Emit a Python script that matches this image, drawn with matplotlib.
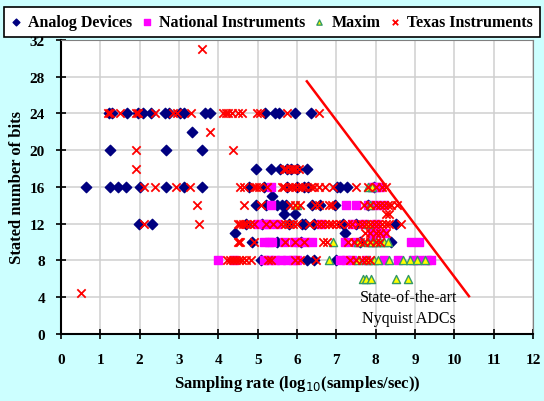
import matplotlib
matplotlib.use("Agg")
import matplotlib.pyplot as plt

# bits -> log10(sample rate) readings, one dict per vendor
analog = {
    24: [1.22, 1.29, 1.67, 1.97, 2.09, 2.30, 2.65, 2.75, 3.03, 3.13, 3.65, 3.78,
         5.18, 5.45, 5.54, 5.96, 6.35],
    22: [3.34],
    20: [1.24, 2.66, 3.59],
    18: [4.97, 5.35, 5.56, 5.75, 5.85, 6.0, 6.25],
    16: [0.64, 1.24, 1.46, 1.66, 2.01, 2.68, 3.13, 3.59, 4.78, 5.16, 5.75, 6.0,
         6.17, 6.29, 7.01, 7.09, 7.26, 7.95],
    15: [5.37],
    14: [4.97, 5.20, 5.50, 5.62, 5.71, 6.38, 6.59, 6.97, 7.8],
    13: [5.66, 5.96],
    12: [1.99, 2.32, 4.7, 5.1, 5.8, 6.13, 6.21, 6.42, 7.18, 7.5, 8.52],
    11: [4.43, 7.22],
    10: [4.85, 5.50, 6.1, 7.6, 8.39],
    8: [5.09, 6.25, 6.42, 7.0],
}

national = {
    16: [5.34, 7.9, 8.0, 8.1],
    14: [5.33, 7.24, 7.51, 7.8, 8.0, 8.2],
    12: [5.0, 5.15, 5.3, 5.5, 6.6, 7.4, 7.7, 8.0],
    11: [7.9, 8.05, 8.2],
    10: [5.16, 5.28, 5.37, 5.66, 5.92, 6.05, 6.2, 6.38, 7.22, 7.5, 7.9, 8.9, 9.1],
    8: [3.98, 4.4, 5.16, 5.3, 5.45, 5.6, 5.75, 5.9, 6.0, 7.1, 7.25, 7.4, 7.75,
        8.2, 8.56, 8.95, 9.1, 9.3, 9.4],
}

maxim = {
    16: [7.8, 7.9],
    14: [6.0, 7.85],
    12: [7.8],
    10: [6.92, 7.55, 7.8, 7.9, 8.0, 8.1, 8.2, 8.3],
    8: [6.81, 7.55, 7.8, 7.95, 8.05, 8.33, 8.69, 8.88, 9.04, 9.26],
    6: [7.68, 7.76, 7.89, 8.52, 8.81],
}

texas = {
    31: [3.58],
    24: [1.19, 1.25, 1.49, 1.90, 1.97, 2.39, 2.85, 2.95, 3.30, 4.13, 4.19, 4.25,
         4.36, 4.49, 4.59, 4.99, 5.07, 5.75, 6.55],
    22: [3.78],
    20: [1.91, 4.38],
    18: [1.91, 5.66, 5.72, 5.82, 5.9, 5.95, 6.05],
    16: [2.12, 2.39, 2.93, 3.29, 4.55, 4.66, 4.91, 4.95, 5.03, 5.24, 5.62, 5.68,
         5.8, 5.88, 5.95, 6.05, 6.12, 6.2, 6.35, 6.42, 6.55, 6.71, 6.92, 7.51,
         7.8, 8.0, 8.15, 8.27],
    14: [3.46, 4.66, 5.08, 5.83, 5.96, 6.08, 6.46, 6.55, 6.80, 6.88, 7.7, 7.85,
         8.0, 8.1, 8.2, 8.3, 8.39, 8.54],
    13: [8.27, 8.35],
    12: [2.12, 3.50, 4.49, 4.55, 4.62, 4.7, 4.8, 4.91, 5.2, 5.4, 5.6, 5.7, 5.8,
         5.9, 6.0, 6.3, 6.5, 6.6, 6.7, 6.8, 6.9, 7.0, 7.1, 7.3, 7.4, 7.55, 7.65,
         7.75, 7.85, 7.95, 8.05, 8.15, 8.25, 8.35, 8.65],
    11: [7.72, 7.85, 8.0, 8.1, 8.25],
    10: [4.49, 4.53, 4.55, 4.91, 5.7, 5.95, 6.17, 6.67, 6.76, 7.30, 7.45, 7.6,
         7.7, 7.85, 8.0, 8.1],
    8: [4.23, 4.3, 4.38, 4.45, 4.52, 4.6, 4.7, 4.82, 5.25, 5.35, 5.96, 6.08,
        6.47, 7.35, 7.5, 7.65, 7.75, 7.85],
    4.5: [0.51],
}

# state-of-the-art boundary line
edge_x = [6.25, 10.37]
edge_y = [27.5, 4.1]


def flatten(d):
    xs, ys = [], []
    for bits, rates in d.items():
        xs += rates
        ys += [bits] * len(rates)
    return xs, ys


plt.rcParams['font.family'] = ['Liberation Serif', 'DejaVu Serif']

fig = plt.figure(figsize=(5.44, 4.02), dpi=100, facecolor='#CCFFFF')
ax = fig.add_axes([0.112, 0.167, 0.868, 0.731])
ax.set_facecolor('white')

x, y = flatten(analog)
ax.scatter(x, y, marker='D', s=28, color='#000080', label='Analog Devices', zorder=3)
x, y = flatten(national)
ax.scatter(x, y, marker='s', s=38, color='#FF00FF', label='National Instruments', zorder=3)
x, y = flatten(maxim)
ax.scatter(x, y, marker='^', s=34, facecolor='#FFFF00', edgecolor='#339966',
           linewidth=1, label='Maxim', zorder=3)
x, y = flatten(texas)
ax.scatter(x, y, marker='x', s=36, color='#FF0000', linewidth=1.3,
           label='Texas Instruments', zorder=3)

ax.plot(edge_x, edge_y, color='#FF0000', lw=1.8, zorder=4)
ax.text(8.83, 2.85, 'State-of-the-art\nNyquist ADCs', ha='center', va='center',
        fontsize=11.5, linespacing=1.45)

ax.set_xlim(0, 12)
ax.set_ylim(0, 32)
ax.set_xticks(range(0, 13))
ax.set_yticks(range(0, 33, 4))
ax.grid(color='#CFCFCF', lw=1.1)
ax.set_axisbelow(True)
ax.tick_params(direction='inout', length=7, width=1.2, labelsize=11, pad=8)
ax.tick_params(axis='x', pad=10)
for lab in ax.get_xticklabels() + ax.get_yticklabels():
    lab.set_fontweight('bold')
for s in ['top', 'right']:
    ax.spines[s].set_color('#808080')
for s in ['left', 'bottom']:
    ax.spines[s].set_linewidth(1.5)

ax.set_xlabel('Sampling rate (log$_{10}$(samples/sec))', fontsize=12,
              fontweight='bold', labelpad=5)
ax.set_ylabel('Stated number of bits', fontsize=12, fontweight='bold', labelpad=3)

leg = fig.legend(loc='upper center', bbox_to_anchor=(0.5, 0.993), ncol=4,
                 prop={'weight': 'bold', 'size': 11.5}, frameon=True, fancybox=False,
                 edgecolor='black', framealpha=1, handlelength=0.6,
                 handletextpad=0.45, columnspacing=0.6, borderpad=0.45,
                 borderaxespad=0.3, markerscale=0.65)
leg.get_frame().set_linewidth(1.2)

fig.savefig('out.png', dpi=100, facecolor=fig.get_facecolor())
